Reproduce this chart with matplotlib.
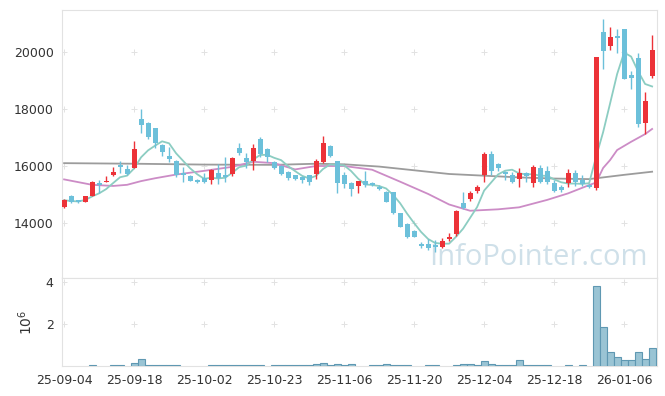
import numpy as np
import pandas as pd
import matplotlib
matplotlib.use("Agg")
import matplotlib.pyplot as plt

# candle data (KRW), one entry per trading day
opens = [14560, 14950, 14790, 14730, 14950, 15410, 15440, 15700, 16030, 15900,
         15940, 17650, 17520, 17330, 16740, 16350, 16170, 15760, 15660, 15510,
         15580, 15510, 15755, 15690, 15710, 16640, 16270, 16175, 16935, 16600,
         16130, 16000, 15800, 15685, 15625, 15685, 15720, 16150, 16700, 16175,
         15685, 15415, 15310, 15475, 15395, 15275, 15100, 15080, 14340, 13965,
         13730, 13265, 13265, 13230, 13145, 13430, 13615, 14690, 14840, 15135,
         15685, 16410, 16080, 15790, 15685, 15545, 15765, 15415, 15920, 15835,
         15415, 15275, 15415, 15745, 15510, 15335, 15220, 20690, 20220, 20570,
         20800, 19190, 19780, 17520, 19160]
highs = [14850, 14980, 14810, 14960, 15460, 15510, 15650, 15980, 16170, 16030,
         16890, 18000, 17540, 17350, 16760, 16680, 16200, 15960, 15700, 15540,
         15755, 15880, 16070, 16320, 16310, 16800, 16455, 16760, 17030, 16620,
         16190, 16030, 15820, 15700, 15640, 15700, 16235, 17050, 16720, 16190,
         15800, 15430, 15490, 15835, 15430, 15330, 15120, 15100, 14360, 13990,
         13750, 13345, 13430, 13400, 13460, 13660, 14450, 15100, 15130, 15340,
         16480, 16535, 16110, 15810, 15800, 15940, 15800, 16035, 16035, 16000,
         15510, 15330, 15885, 15870, 15685, 15360, 19825, 21160, 20865, 20800,
         20800, 19330, 19950, 18610, 20600]
lows = [14530, 14700, 14700, 14720, 14930, 15060, 15430, 15650, 15760, 15690,
        15920, 17160, 16950, 16630, 16360, 16150, 15615, 15440, 15460, 15420,
        15420, 15360, 15370, 15440, 15640, 16390, 15930, 15860, 16330, 16140,
        15900, 15700, 15510, 15500, 15395, 15335, 15535, 16095, 16330, 15040,
        15220, 14950, 15065, 15275, 15310, 15160, 14730, 14320, 13850, 13480,
        13500, 13110, 13050, 12990, 13130, 13380, 13560, 14480, 14780, 15040,
        15450, 15685, 15830, 15510, 15395, 15250, 15450, 15250, 15395, 15370,
        15100, 15090, 15275, 15300, 15300, 15230, 15160, 19390, 20070, 19950,
        19040, 18690, 17380, 17120, 19080]
closes = [14800, 14740, 14730, 14950, 15440, 15340, 15480, 15790, 15980, 15720,
          16600, 17440, 17010, 16800, 16480, 16250, 15690, 15690, 15490, 15450,
          15440, 15860, 15580, 15610, 16290, 16450, 16130, 16640, 16420, 16330,
          15920, 15720, 15590, 15545, 15510, 15450, 16175, 16800, 16350, 15415,
          15370, 15180, 15475, 15320, 15335, 15180, 14750, 14340, 13870, 13500,
          13520, 13195, 13110, 13170, 13380, 13520, 14420, 14515, 15065, 15275,
          16410, 15835, 15940, 15715, 15450, 15765, 15660, 15975, 15450, 15430,
          15135, 15160, 15745, 15450, 15370, 15255, 19815, 20045, 20515, 20500,
          19040, 19100, 17460, 18290, 20070]

# volume in millions of shares
volumes = [0, 0, 0, 0, 0.04, 0, 0, 0.04, 0.04, 0,
           0.16, 0.32, 0.07, 0.04, 0.04, 0.04, 0.04, 0, 0, 0,
           0, 0.04, 0.04, 0.04, 0.04, 0.04, 0.04, 0.04, 0.04, 0,
           0.04, 0.04, 0.04, 0.04, 0.04, 0.04, 0.08, 0.14, 0.04, 0.09,
           0.04, 0.09, 0, 0, 0.04, 0.04, 0.09, 0.04, 0.04, 0.04,
           0, 0, 0.04, 0.04, 0, 0, 0.04, 0.09, 0.09, 0.04,
           0.22, 0.08, 0.04, 0.04, 0.04, 0.30, 0.04, 0.04, 0.04, 0.04,
           0, 0, 0.04, 0, 0.04, 0, 3.82, 1.84, 0.65, 0.41,
           0.29, 0.29, 0.65, 0.33, 0.84]

# 20-day and long moving averages
ma20_idx = [0, 4, 7, 9, 11, 13, 16, 20, 24, 27, 30, 33, 36, 40, 44, 48, 52,
            55, 58, 62, 65, 69, 72, 75, 76, 77, 78, 79, 81, 83, 84]
ma20_val = [15530, 15340, 15300, 15340, 15470, 15570, 15700, 15830, 15970,
            16150, 16100, 15880, 16000, 16000, 15870, 15450, 15020, 14650,
            14430, 14480, 14550, 14810, 15040, 15330, 15420, 15930, 16210,
            16560, 16850, 17120, 17300]
ma120_idx = [0, 10, 20, 30, 36, 40, 45, 50, 55, 60, 65, 70, 75, 77, 80, 84]
ma120_val = [16100, 16080, 16050, 16040, 16080, 16060, 15980, 15850, 15720,
             15660, 15600, 15560, 15540, 15600, 15690, 15800]

tick_pos = [0, 10, 20, 30, 40, 50, 60, 70, 80]
tick_labels = ["25-09-04", "25-09-18", "25-10-02", "25-10-23", "25-11-06",
               "25-11-20", "25-12-04", "25-12-18", "26-01-06"]

df = pd.DataFrame({"open": opens, "high": highs, "low": lows,
                   "close": closes, "vol": volumes})
idx = np.arange(len(df))
ma5 = df["close"].rolling(5, min_periods=1).mean()

red = "#ec3238"
blue = "#6cc0da"
up = df["close"] >= df["open"]
colors = np.where(up, red, blue)

plt.rcParams["font.family"] = ["DejaVu Sans"]
fig = plt.figure(figsize=(6.65, 3.96), dpi=100)
ax = fig.add_axes([0.0932, 0.298, 0.8948, 0.6767])
axv = fig.add_axes([0.0932, 0.0758, 0.8948, 0.2222], sharex=ax)

# watermark
ax.text(0.985, 0.048, "InfoPointer.com", transform=ax.transAxes, ha="right",
        va="baseline", fontsize=21, color="#cfe0e9", family="Open Sans",
        zorder=0)

# moving averages
ax.plot(ma120_idx, ma120_val, color="#9c9c9c", lw=1.3, zorder=2)
ax.plot(ma20_idx, ma20_val, color="#cc8cc6", lw=1.3, zorder=2)
ax.plot(idx, ma5, color="#8ccdc2", lw=1.3, zorder=2)

# candles
ax.vlines(idx, df["low"], df["high"], colors=colors, lw=1, zorder=3)
body = (df["close"] - df["open"]).abs().clip(lower=25)
ax.bar(idx, body, bottom=df[["open", "close"]].min(axis=1), width=0.72,
       color=colors, zorder=4)

ax.set_ylim(12070, 21474)
ax.set_xlim(-0.3, 84.7)
ax.set_yticks([14000, 16000, 18000, 20000])

# volume
vol = df["vol"]
m = vol > 0
axv.bar(idx[m], vol[m], width=1.0, color="#9ac4d4", edgecolor="#5f98b2",
        lw=0.8, zorder=3)
axv.set_ylim(0, 4.19)
axv.set_yticks([2, 4])
axv.set_ylabel(r"$10^6$", fontsize=10, color="#333333", labelpad=8)
axv.set_xticks(tick_pos)
axv.set_xticklabels(tick_labels)

# grid crosses at tick intersections
for a, ys in ((ax, [14000, 16000, 18000, 20000]), (axv, [2, 4])):
    gx, gy = np.meshgrid(tick_pos, ys)
    a.scatter(gx.ravel(), gy.ravel(), marker="+", s=25, color="#e2e2e2",
              lw=0.7, zorder=1)
    for s in a.spines.values():
        s.set_color("#e2e2e2")
    a.tick_params(length=0, labelsize=9, colors="#333333", pad=6)

plt.setp(ax.get_xticklabels(), visible=False)

fig.savefig("out.png", dpi=100)
